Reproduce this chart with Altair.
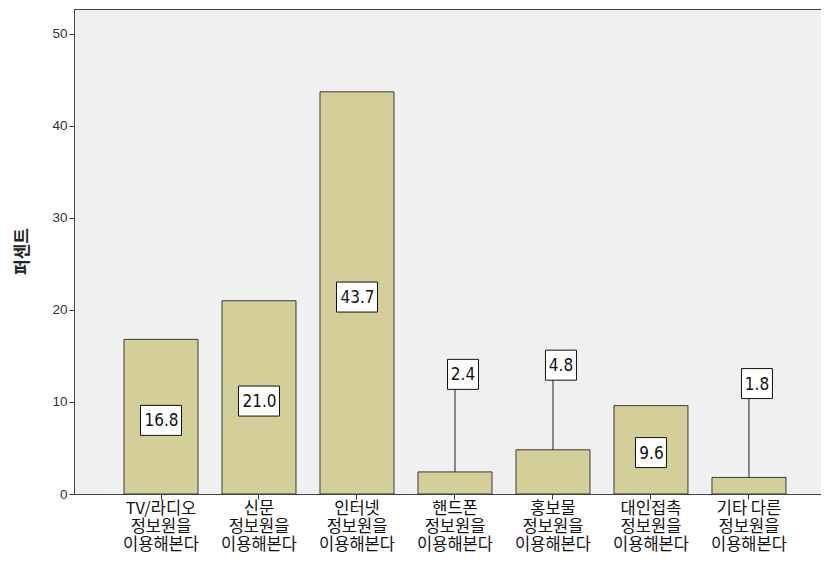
import altair as alt
import pandas as pd

categories = [
    "TV/라디오\n정보원을\n이용해본다",
    "신문\n정보원을\n이용해본다",
    "인터넷\n정보원을\n이용해본다",
    "핸드폰\n정보원을\n이용해본다",
    "홍보물\n정보원을\n이용해본다",
    "대인접촉\n정보원을\n이용해본다",
    "기타 다른\n정보원을\n이용해본다",
]
values = [16.8, 21.0, 43.7, 2.4, 4.8, 9.6, 1.8]
label_text = ["16.8", "21.0", "43.7", "2.4", "4.8", "9.6", "1.8"]
label_y = [8.0, 10.1, 21.4, 13.0, 14.0, 4.5, 12.0]
y_ticks = [0, 10, 20, 30, 40, 50]

df = pd.DataFrame({"cat": categories, "value": values, "text": label_text, "label_y": label_y})
df["nchar"] = df["text"].str.len()

W, H = 747, 485
KFONT = "Noto Sans CJK KR"
NFONT = "Liberation Sans"
LFONT = "Liberation Sans Narrow, DejaVu Sans Condensed, Liberation Sans"

xscale = alt.Scale(domain=categories, paddingInner=0.245, paddingOuter=0.434, align=0.588)
yscale = alt.Scale(domain=[0, 52.7], nice=False, zero=True)

x_axis = alt.Axis(
    title=None, labelAngle=0, labelExpr="split(datum.label, '\\n')",
    labelFont=KFONT, labelFontSize=16.5, labelLineHeight=18, labelColor="#111",
    labelBaseline="top", labelPadding=1, tickSize=5, tickColor="#333",
    domainColor="#444", labelLimit=200,
)
y_axis = alt.Axis(
    values=y_ticks, grid=False, title="퍼센트", titleFont=KFONT, titleFontSize=17,
    titleFontWeight="bold", titleColor="#222", titleAngle=270, titleX=-52, titleY=242,
    titleAlign="center", titleBaseline="middle",
    labelFont=NFONT, labelFontSize=13.5, labelColor="#333", labelPadding=2,
    tickSize=5, tickColor="#333", domainColor="#444",
)

def X():
    return alt.X("cat:N", sort=categories, scale=xscale, axis=x_axis)

def Y(field):
    return alt.Y(field, scale=yscale, axis=y_axis)

bars = alt.Chart(df).mark_bar(fill="#D4CF98", stroke="#3a3a3a", strokeWidth=1).encode(
    x=X(), y=Y("value:Q"),
)

callout = "datum.label_y > datum.value"
inside = "datum.label_y <= datum.value"

rules = alt.Chart(df).transform_filter(callout).mark_rule(color="#222", strokeWidth=1).encode(
    x=X(), y=Y("value:Q"), y2="label_y:Q",
)

def boxes(flt, width, xoff):
    return alt.Chart(df).transform_filter(flt).mark_bar(
        fill="white", stroke="#111", strokeWidth=1, width=width,
        yOffset=15, y2Offset=-15, xOffset=xoff,
    ).encode(x=X(), y=Y("label_y:Q"), y2="label_y:Q")

box_layers = [
    boxes(inside + " && datum.nchar == 4", 41, 0),
    boxes(inside + " && datum.nchar == 3", 31, 0),
    boxes(callout, 31, 8),
]

def texts(flt, xoff):
    return alt.Chart(df).transform_filter(flt).mark_text(
        font=LFONT, fontSize=17, color="#111", baseline="middle", align="center", dx=xoff, dy=1,
    ).encode(x=X(), y=Y("label_y:Q"), text="text:N")

text_layers = [texts(inside, 0.5), texts(callout, 8)]

top = alt.Chart(df).mark_rule(color="#444", strokeWidth=1).encode(
    x=alt.value(0), x2=alt.value(W), y=alt.value(0.5)
)

chart = alt.layer(bars, rules, *box_layers, *text_layers, top).properties(
    width=W, height=H,
    autosize=alt.AutoSizeParams(type="none"),
    padding={"left": 66, "top": 1, "right": 0, "bottom": 60},
    background="white",
).configure_view(stroke="transparent", fill="#F0F0F0")

chart.save("out.html", embed_options={"renderer": "svg", "actions": False})
